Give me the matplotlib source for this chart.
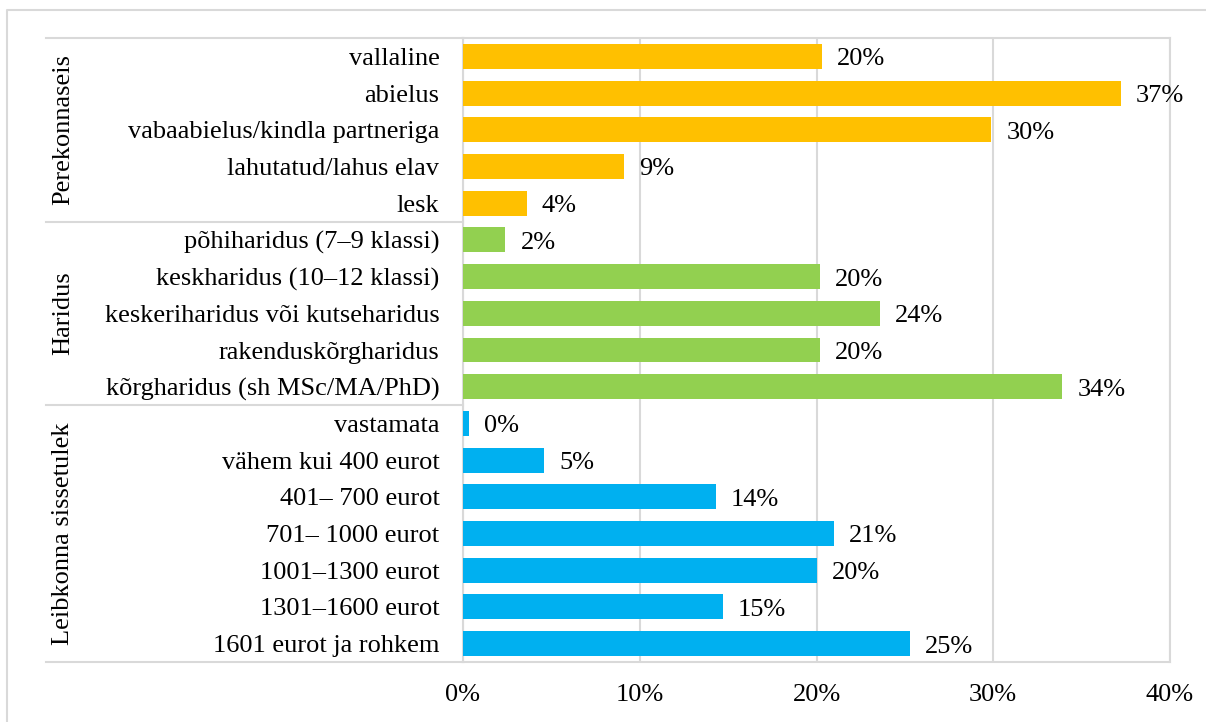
import matplotlib
matplotlib.use("Agg")
import matplotlib.pyplot as plt
from matplotlib.lines import Line2D
from matplotlib.ticker import FuncFormatter

plt.rcParams["font.family"] = ["Liberation Serif", "DejaVu Serif"]

groups = ["Perekonnaseis", "Haridus", "Leibkonna sissetulek"]
group_colors = ["#FFC000", "#92D050", "#00B0F0"]

perekonnaseis_labels = ["vallaline", "abielus", "vabaabielus/kindla partneriga",
                        "lahutatud/lahus elav", "lesk"]
perekonnaseis_values = [20.3, 37.2, 29.9, 9.1, 3.6]

haridus_labels = ["põhiharidus (7–9 klassi)", "keskharidus (10–12 klassi)",
                  "keskeriharidus või kutseharidus", "rakenduskõrgharidus",
                  "kõrgharidus (sh MSc/MA/PhD)"]
haridus_values = [2.4, 20.2, 23.6, 20.2, 33.9]

sissetulek_labels = ["vastamata", "vähem kui 400 eurot", "401– 700 eurot",
                     "701– 1000 eurot", "1001–1300 eurot", "1301–1600 eurot",
                     "1601 eurot ja rohkem"]
sissetulek_values = [0.35, 4.6, 14.3, 21.0, 20.0, 14.7, 25.3]

x_ticks = [0, 10, 20, 30, 40]

all_labels = [perekonnaseis_labels, haridus_labels, sissetulek_labels]
all_values = [perekonnaseis_values, haridus_values, sissetulek_values]

W, H = 1206, 722
fig = plt.figure(figsize=(W / 100, H / 100), dpi=100)
ax_left, ax_right, ax_top, ax_bottom = 463, 1170, 38, 662
ax = fig.add_axes([ax_left / W, 1 - ax_bottom / H, (ax_right - ax_left) / W, (ax_bottom - ax_top) / H])

grid = "#D9D9D9"
fs = 19
n_rows = sum(len(v) for v in all_values)

row = 0
labels_flat = []
bounds = [0]
for labels, values, color in zip(all_labels, all_values, group_colors):
    ys = list(range(row, row + len(values)))
    ax.barh(ys, values, height=0.68, color=color, zorder=3)
    for y, v in zip(ys, values):
        ax.text(v + 0.85, y + 0.08, f"{v:.0f}%", va="center", ha="left", fontsize=fs, color="#000000")
    labels_flat += labels
    row += len(values)
    bounds.append(row)

ax.set_xlim(0, 40)
ax.set_ylim(n_rows - 0.5, -0.5)
ax.set_xticks(x_ticks)
ax.xaxis.set_major_formatter(FuncFormatter(lambda v, _: f"{v:.0f}%"))
ax.set_yticks(range(n_rows))
ax.set_yticklabels(labels_flat)
ax.tick_params(axis="both", length=0, labelsize=fs, colors="#000000")
ax.tick_params(axis="y", pad=17)
ax.tick_params(axis="x", pad=16)
ax.grid(axis="x", color=grid, linewidth=1.5, zorder=0)
for s in ax.spines.values():
    s.set_color(grid)
    s.set_linewidth(1.5)

# group separators and rotated group names in the label column
row_h = (ax_bottom - ax_top) / n_rows
for b in bounds:
    y = ax_top + b * row_h
    fig.add_artist(Line2D([46 / W, ax_left / W], [1 - y / H, 1 - y / H], color=grid, linewidth=1.5))
for g, b0, b1 in zip(groups, bounds[:-1], bounds[1:]):
    yc = ax_top + (b0 + b1) / 2 * row_h
    fig.text(63 / W, 1 - yc / H, g, rotation=90, ha="center", va="center", fontsize=fs)

# chart border (clipped at right and bottom)
fig.add_artist(Line2D([7 / W, 7 / W, 1.0], [0.0, 1 - 10 / H, 1 - 10 / H], color=grid, linewidth=1.5))

fig.savefig("out.png", dpi=100)
